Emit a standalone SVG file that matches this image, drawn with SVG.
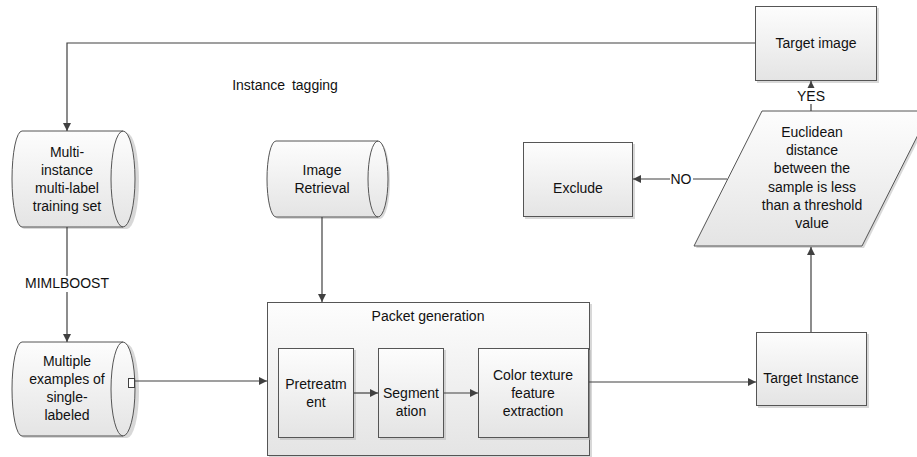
<svg xmlns="http://www.w3.org/2000/svg" width="917" height="457" viewBox="0 0 917 457">
<style>
text{font-family:"Liberation Sans",Arial,sans-serif;font-size:14px;fill:#111;text-anchor:middle}
.shape{fill:url(#g);stroke:#555;stroke-width:1}
.sh{fill:#b8b8b8;opacity:.55}
.c{fill:none;stroke:#404040;stroke-width:1.2}
.lbl{fill:#fff}
</style>
<defs>
<linearGradient id="g" x1="0" y1="0" x2="0" y2="1">
<stop offset="0" stop-color="#fdfdfd"/>
<stop offset="1" stop-color="#e4e4e4"/>
</linearGradient>
<marker id="a" viewBox="0 0 10 10" refX="10" refY="5" markerWidth="8" markerHeight="8" markerUnits="userSpaceOnUse" orient="auto">
<path d="M0,0 L10,5 L0,10 z" fill="#404040"/>
</marker>
</defs>

<g id="target-image">
<rect class="sh" x="757" y="8" width="122" height="75"/>
<rect class="shape" x="755.5" y="6.5" width="121" height="74"/>
<text x="816" y="48">Target image</text>
</g>

<g id="multi-instance">
<path class="sh" d="M24,133 L127,133 A12,48 0 0 1 127,229 L24,229 A10,48 0 0 1 24,133 Z"/>
<path class="shape" d="M22,131 L123,131 A12,48 0 0 1 123,227 L22,227 A10,48 0 0 1 22,131 Z"/>
<path class="shape" d="M123,131 A12,48 0 0 0 123,227" style="fill:none"/>
<text x="67" y="157">Multi-</text>
<text x="67" y="175">instance</text>
<text x="67" y="193">multi-label</text>
<text x="67" y="211">training set</text>
</g>

<g id="image-retrieval">
<path class="sh" d="M278,143 L380,143 A10,38 0 0 1 380,219 L278,219 A9,38 0 0 1 278,143 Z"/>
<path class="shape" d="M276,141 L378,141 A10,38 0 0 1 378,217 L276,217 A9,38 0 0 1 276,141 Z"/>
<path class="shape" d="M378,141 A10,38 0 0 0 378,217" style="fill:none"/>
<text x="322" y="175">Image</text>
<text x="322" y="193">Retrieval</text>
</g>

<g id="multiple-examples">
<path class="sh" d="M24,344 L127,344 A12,47 0 0 1 127,438 L24,438 A10,47 0 0 1 24,344 Z"/>
<path class="shape" d="M22,342 L123,342 A12,47 0 0 1 123,436 L22,436 A10,47 0 0 1 22,342 Z"/>
<path class="shape" d="M123,342 A12,47 0 0 0 123,436" style="fill:none"/>
<text x="67" y="366">Multiple</text>
<text x="67" y="384">examples of</text>
<text x="67" y="402">single-</text>
<text x="67" y="420">labeled</text>
</g>

<g id="packet-generation">
<rect class="sh" x="269" y="304" width="323" height="154"/>
<rect class="shape" x="267.5" y="302.5" width="322" height="153"/>
<text x="428" y="321">Packet generation</text>
</g>

<g id="pretreatment">
<rect class="sh" x="280" y="350" width="76" height="90"/>
<rect class="shape" x="278.5" y="348.5" width="75" height="89"/>
<text x="316" y="389">Pretreatm</text>
<text x="316" y="407">ent</text>
</g>

<g id="segmentation">
<rect class="sh" x="380" y="350" width="66" height="90"/>
<rect class="shape" x="378.5" y="348.5" width="65" height="89"/>
<text x="411" y="398">Segment</text>
<text x="411" y="416">ation</text>
</g>

<g id="color-texture">
<rect class="sh" x="480" y="350" width="111" height="90"/>
<rect class="shape" x="478.5" y="348.5" width="110" height="89"/>
<text x="533" y="380">Color texture</text>
<text x="533" y="398">feature</text>
<text x="533" y="416">extraction</text>
</g>

<g id="target-instance">
<rect class="sh" x="758" y="334" width="111" height="74"/>
<rect class="shape" x="756.5" y="332.5" width="110" height="73"/>
<text x="811" y="383">Target Instance</text>
</g>

<g id="euclidean">
<path class="sh" d="M764,113 L932,113 L864,248 L696,248 Z"/>
<path class="shape" d="M762,111 L930,111 L862,246 L694,246 Z"/>
<text x="812" y="137">Euclidean</text>
<text x="812" y="155">distance</text>
<text x="812" y="173">between the</text>
<text x="812" y="192">sample is less</text>
<text x="812" y="210">than a threshold</text>
<text x="812" y="228">value</text>
</g>

<g id="exclude">
<rect class="sh" x="525" y="144" width="110" height="75"/>
<rect class="shape" x="523.5" y="142.5" width="109" height="74"/>
<text x="578" y="193">Exclude</text>
</g>

<g id="connectors">
<path class="c" d="M755,43 H67 V131" marker-end="url(#a)"/>
<path class="c" d="M67,227 V342" marker-end="url(#a)"/>
<path class="c" d="M322,217 V302" marker-end="url(#a)"/>
<path class="c" d="M135,381 H267" marker-end="url(#a)"/>
<rect x="128.5" y="378.5" width="6" height="9" fill="#fff" stroke="#404040" stroke-width="1"/>
<path class="c" d="M354,393 H378" marker-end="url(#a)"/>
<path class="c" d="M444,393 H478" marker-end="url(#a)"/>
<path class="c" d="M589,382 H756" marker-end="url(#a)"/>
<path class="c" d="M811,332 V247" marker-end="url(#a)"/>
<path class="c" d="M811,111 V81" marker-end="url(#a)"/>
<path class="c" d="M727,179 H633" marker-end="url(#a)"/>
<rect class="lbl" x="26" y="276" width="82" height="16"/>
<text x="67" y="288">MIMLBOOST</text>
<rect class="lbl" x="796" y="88" width="30" height="16"/>
<text x="811" y="101">YES</text>
<rect class="lbl" x="670" y="172" width="23" height="15"/>
<text x="681" y="184">NO</text>
<text x="285" y="90" word-spacing="3">Instance tagging</text>
</g>
</svg>
